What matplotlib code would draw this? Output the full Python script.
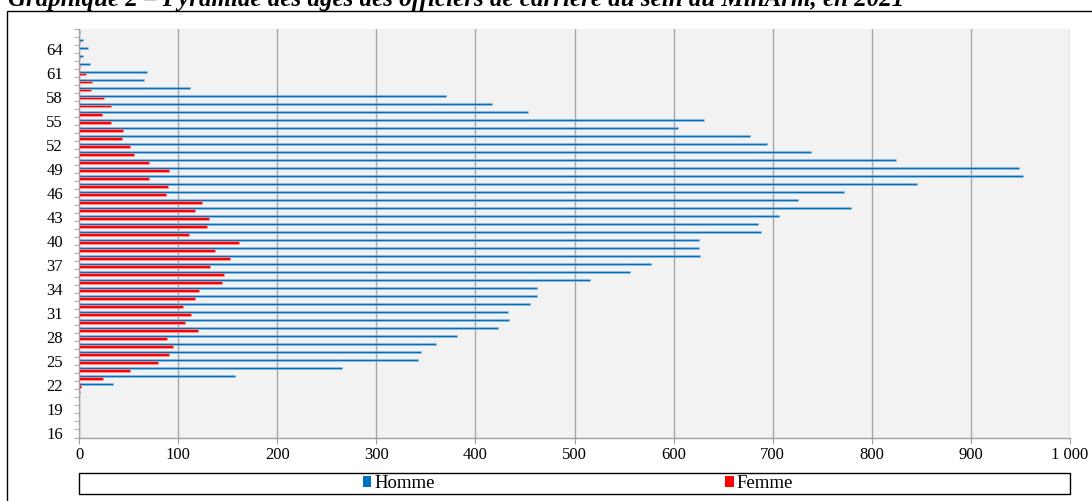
import numpy as np
import matplotlib.pyplot as plt
from matplotlib.patches import Patch, Rectangle

W, H = 1092, 501

ages = list(range(16, 67))
homme = [0, 0, 0, 0, 0, 1, 34, 157, 265, 342, 345, 360, 381, 423, 434, 433,
         455, 462, 462, 516, 556, 577, 627, 626, 626, 688, 685, 706, 779, 726,
         772, 846, 953, 949, 824, 739, 694, 677, 604, 631, 453, 417, 370, 112,
         66, 69, 11, 4, 9, 4, 1]
femme = [0, 0, 0, 0, 0, 0, 2, 24, 51, 80, 91, 95, 89, 120, 107, 113,
         105, 117, 121, 144, 146, 132, 152, 137, 161, 111, 129, 131, 117, 124,
         88, 90, 71, 91, 71, 55, 51, 43, 44, 32, 23, 32, 25, 12,
         13, 7, 1, 1, 0, 1, 0]
age_labels = list(range(16, 66, 3))
x_ticks = list(range(0, 1001, 100))
x_labels = ["0", "100", "200", "300", "400", "500", "600", "700", "800", "900", "1 000"]

title = "Graphique 2 – Pyramide des âges des officiers de carrière au sein du MinArm, en 2021"
serif = "Liberation Serif"


def px(x, y):
    # pixel coords (from top-left) -> figure fraction
    return x / W, 1 - y / H


fig = plt.figure(figsize=(W / 100, H / 100), dpi=100)

# outer frame of the chart
fx, fy = px(7, 11)
fig.patches.append(Rectangle((fx, -0.1), 1.2, fy + 0.1, transform=fig.transFigure,
                             fill=False, edgecolor="black", linewidth=1.0))

tx, ty = px(8, 6)
fig.text(tx, ty, title, fontsize=18, fontweight="bold", fontstyle="italic",
         family=serif, va="baseline", ha="left")

left, top = px(79, 29)
right, bottom = px(1070, 437.5)
ax = fig.add_axes([left, bottom, right - left, top - bottom])
ax.set_facecolor("#f2f2f2")

y = np.array(ages)
ax.barh(y + 0.15, homme, height=0.3, color="#0070c0",
        edgecolor="#9dc3e6", linewidth=0.4, zorder=3)
ax.barh(y - 0.15, femme, height=0.3, color="#ff0000",
        edgecolor="#ff9f9f", linewidth=0.4, zorder=3)

ax.set_xlim(0, 1000)
ax.set_ylim(15.5, 66.5)
ax.set_xticks(x_ticks)
ax.set_xticklabels(x_labels)
ax.set_yticks(age_labels)
ax.set_yticklabels([str(a) for a in age_labels])
ax.set_yticks(np.arange(15.5, 67, 1.0), minor=True)

ax.grid(axis="x", color="#a6a6a6", linewidth=1.0, zorder=1)
ax.set_axisbelow(True)
for s in ["top", "right"]:
    ax.spines[s].set_visible(False)
for s in ["left", "bottom"]:
    ax.spines[s].set_color("#a0a0a0")
    ax.spines[s].set_linewidth(1.0)

ax.tick_params(axis="y", which="major", length=0, pad=11.5)
ax.tick_params(axis="y", which="minor", length=3.5, color="#a0a0a0")
ax.tick_params(axis="x", length=4, color="#a0a0a0", pad=3)
for lab in ax.get_xticklabels() + ax.get_yticklabels():
    lab.set_family(serif)
    lab.set_fontsize(12)

# legend box
lx0, ly0 = px(79, 494)
lx1, ly1 = px(1070, 473)
fig.patches.append(Rectangle((lx0, ly0), lx1 - lx0, ly1 - ly0, transform=fig.transFigure,
                             fill=False, edgecolor="black", linewidth=1.0))
handles = [Patch(facecolor="#0070c0", label="Homme"),
           Patch(facecolor="#ff0000", label="Femme")]
cx, cy = px(578, 483.5)
fig.legend(handles=handles, loc="center", bbox_to_anchor=(cx, cy), ncol=2,
           frameon=False, handlelength=0.45, handleheight=0.55, handletextpad=0.15,
           columnspacing=15.5, borderpad=0, prop={"family": serif, "size": 13.5})

fig.savefig("out.png", dpi=100)
